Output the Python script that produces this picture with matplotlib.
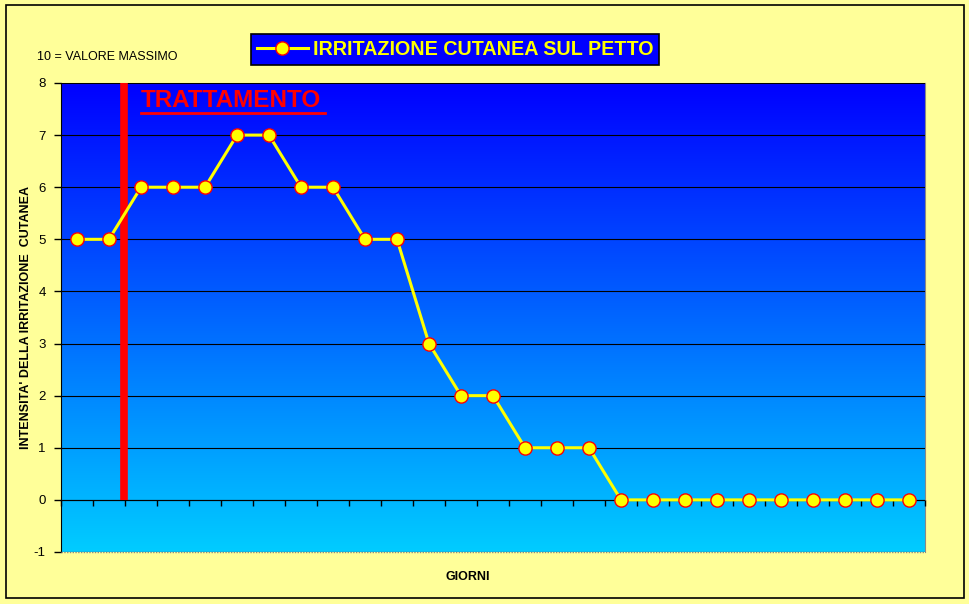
import numpy as np
import matplotlib
matplotlib.use("Agg")
import matplotlib.pyplot as plt
from matplotlib.colors import LinearSegmentedColormap
from matplotlib.patches import Rectangle

plt.rcParams['font.family'] = ['Liberation Sans', 'DejaVu Sans']
plt.rcParams['axes.unicode_minus'] = False

# irritazione per giorno (0-10)
giorni = list(range(1, 28))
valori = [5, 5, 6, 6, 6, 7, 7, 6, 6, 5, 5, 3, 2, 2, 1, 1, 1,
          0, 0, 0, 0, 0, 0, 0, 0, 0, 0]
y_ticks = [-1, 0, 1, 2, 3, 4, 5, 6, 7, 8]
inizio_trattamento = 2.48   # tra il giorno 2 e il giorno 3

fig = plt.figure(figsize=(9.7, 6.04), dpi=100)
fig.patch.set_facecolor('#FFFF99')
fig.patches.append(Rectangle((0.006, 0.01), 0.988, 0.982, transform=fig.transFigure,
                             fill=False, edgecolor='black', lw=1.2))

ax = fig.add_axes([0.0629, 0.0861, 0.8907, 0.7765])

# sfondo sfumato blu -> azzurro
cmap = LinearSegmentedColormap.from_list('bg', ['#00CCFF', '#0000FF'])
grad = np.linspace(0, 1, 256).reshape(-1, 1)
ax.imshow(grad, aspect='auto', cmap=cmap, origin='lower',
          extent=[0.5, 27.5, -1, 8], zorder=0)

ax.set_xlim(0.5, 27.5)
ax.set_ylim(-1, 8)
ax.set_yticks(y_ticks)
ax.set_xticks(np.arange(0.5, 28, 1))
ax.set_xticklabels([])
ax.yaxis.grid(True, color='black', lw=0.8, zorder=1)
ax.set_axisbelow(False)

ax.spines['bottom'].set_position(('data', 0))
ax.spines['bottom'].set_zorder(2)
ax.spines['top'].set_color('#888888')
ax.spines['top'].set_linestyle((0, (1, 1)))
ax.spines['right'].set_color('#888888')
ax.spines['right'].set_linestyle((0, (1, 1)))
ax.axhline(-1, color='#888888', lw=1, ls=(0, (1, 1)), zorder=3, clip_on=False)
ax.tick_params(axis='x', direction='out', length=4, width=1)
ax.tick_params(axis='y', direction='out', length=5, width=1, labelsize=9.5, pad=6)

ax.vlines(inizio_trattamento, 0, 8, color='#FF0000', lw=5.5, zorder=3)
ax.text(3.0, 7.66, 'TRATTAMENTO', color='#FF0000', fontsize=17.5, fontweight='bold',
        ha='left', va='center', zorder=5)
ax.plot([3.0, 8.75], [7.43, 7.43], color='#FF0000', lw=2, zorder=5)

linea, = ax.plot(giorni, valori, color='#FFFF00', lw=2.2, marker='o', markersize=9.5,
                 markerfacecolor='#FFFF00', markeredgecolor='#FF0000',
                 markeredgewidth=1, zorder=4, clip_on=False,
                 label='IRRITAZIONE CUTANEA SUL PETTO')

leg = fig.legend(handles=[linea], loc='center', bbox_to_anchor=(0.469, 0.918),
                 frameon=True, fancybox=False, facecolor='#0000FF',
                 edgecolor='black', framealpha=1, handlelength=2.6,
                 borderpad=0.3, handletextpad=0.25,
                 prop={'weight': 'bold', 'size': 14.2})
leg.get_frame().set_linewidth(1.2)
for t in leg.get_texts():
    t.set_color('#FFFF00')

fig.text(0.038, 0.905, '10 = VALORE MASSIMO', fontsize=9, ha='left', va='center')
ax.set_ylabel("INTENSITA' DELLA IRRITAZIONE  CUTANEA", fontsize=9, fontweight='bold',
              labelpad=1)
fig.text(0.482, 0.044, 'GIORNI', fontsize=9, fontweight='bold', ha='center', va='center')

fig.savefig('out.png', dpi=100, facecolor=fig.get_facecolor())
